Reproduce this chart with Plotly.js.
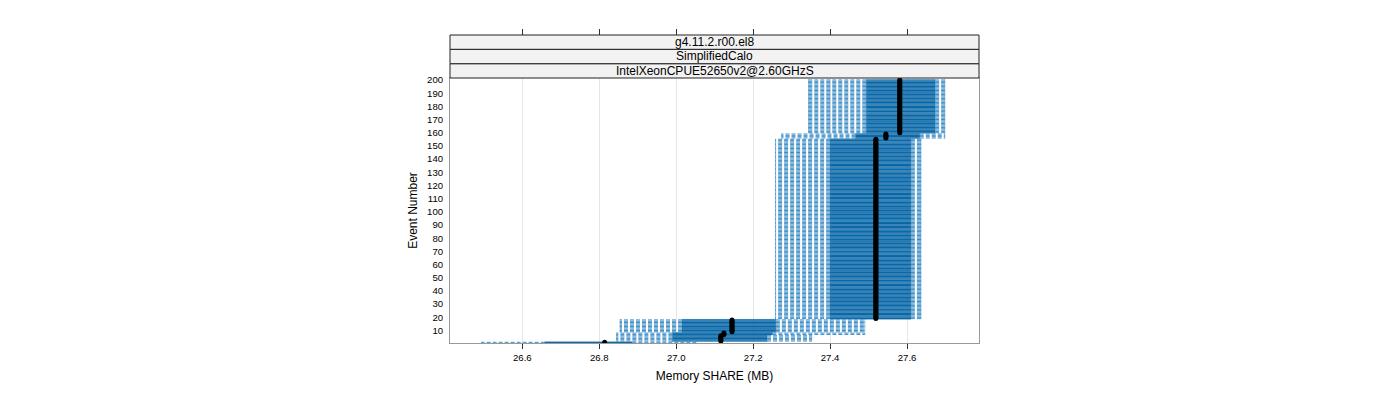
<!DOCTYPE html>
<html>
<head>
<meta charset="utf-8">
<script src="https://cdn.plot.ly/plotly-3.0.1.min.js"></script>
<style>
  html, body { margin: 0; padding: 0; background: #fff; }
  #chart { width: 1400px; height: 400px; }
</style>
</head>
<body>
<div id="chart"></div>
<script>
// runs of events that share the same box stats
var eventFrom   = [1, 2, 7, 9, 19, 156, 160];
var eventTo     = [1, 6, 8, 18, 155, 159, 200];
var whiskerLow  = [26.494, 26.845, 26.845, 26.854, 27.258, 27.274, 27.344];
var boxLow      = [26.658, 26.990, 26.990, 27.015, 27.400, 27.466, 27.494];
var medianVal   = [26.814, 27.116, 27.124, 27.145, 27.519, 27.545, 27.581];
var boxHigh     = [26.886, 27.236, 27.250, 27.259, 27.610, 27.633, 27.673];
var whiskerHigh = [27.051, 27.352, 27.490, 27.490, 27.636, 27.698, 27.698];

var stripLabels = ["g4.11.2.r00.el8", "SimplifiedCalo", "IntelXeonCPUE52650v2@2.60GHzS"];
var xTicks = [26.6, 26.8, 27.0, 27.2, 27.4, 27.6];
var yTicks = [10, 20, 30, 40, 50, 60, 70, 80, 90, 100,
              110, 120, 130, 140, 150, 160, 170, 180, 190, 200];

// one entry per event
var ev = [], lo = [], q1 = [], med = [], q3 = [], hi = [];
for (var b = 0; b < eventFrom.length; b++) {
  for (var e = eventFrom[b]; e <= eventTo[b]; e++) {
    ev.push(e);
    lo.push(whiskerLow[b]);
    q1.push(boxLow[b]);
    med.push(medianVal[b]);
    q3.push(boxHigh[b]);
    hi.push(whiskerHigh[b]);
  }
}

// dashed whiskers with end caps
var half = 0.3;
var wx = [], wy = [];
ev.forEach(function(e, i) {
  wx.push(q1[i], lo[i], null, lo[i], lo[i], null, q3[i], hi[i], null, hi[i], hi[i], null);
  wy.push(e, e, null, e - half, e + half, null, e, e, null, e - half, e + half, null);
});

var whiskers = {
  x: wx, y: wy, type: "scatter", mode: "lines",
  line: {color: "#3b8cc6", width: 1, dash: "4px,2px"},
  hoverinfo: "skip"
};
var boxes = {
  y: ev, x: q3.map(function(v, i) { return v - q1[i]; }), base: q1,
  type: "bar", orientation: "h", width: 0.85,
  marker: {color: "#0c72b8", line: {color: "#08588f", width: 0.3}}
};
var medians = {
  x: med, y: ev, type: "scatter", mode: "markers",
  marker: {color: "#000", size: 5}
};
var topTicks = {x: [], y: [], xaxis: "x2", type: "scatter"};

var xRange = [26.412, 27.787];
var panelFrac = 265 / 308;
var edges = [panelFrac, 279.3 / 308, 293.7 / 308, 1];

var shapes = [], annotations = [];
for (var s = 0; s < stripLabels.length; s++) {
  // bottom strip is the last label
  var k = stripLabels.length - 1 - s;
  shapes.push({type: "rect", xref: "paper", yref: "paper", x0: 0, x1: 1,
               y0: edges[s], y1: edges[s + 1],
               fillcolor: "#f2f2f2", line: {color: "#222", width: 1}});
  annotations.push({text: stripLabels[k], xref: "paper", yref: "paper",
                    x: 0.5, y: (edges[s] + edges[s + 1]) / 2,
                    xanchor: "center", yanchor: "middle",
                    showarrow: false, font: {size: 12, color: "#000"}});
}

var layout = {
  width: 1400, height: 400,
  margin: {l: 450, r: 421, t: 35, b: 57},
  paper_bgcolor: "#fff", plot_bgcolor: "#fff",
  showlegend: false,
  font: {family: "Liberation Sans, Arial, sans-serif", size: 10, color: "#000"},
  xaxis: {
    range: xRange, tickvals: xTicks, tickformat: ".1f",
    ticks: "outside", ticklen: 5, tickcolor: "#333",
    showgrid: true, gridcolor: "#e6e6e6",
    showline: true, linecolor: "#999", linewidth: 1, mirror: true,
    zeroline: false, tickfont: {size: 9.6},
    title: {text: "Memory SHARE (MB)", font: {size: 12}, standoff: 10}
  },
  xaxis2: {
    overlaying: "x", anchor: "free", position: 1, side: "top",
    range: xRange, tickvals: xTicks, ticks: "outside", ticklen: 6,
    tickcolor: "#333", showticklabels: false, showgrid: false,
    showline: false, zeroline: false
  },
  yaxis: {
    domain: [0, panelFrac], range: [0.5, 201.5], tickvals: yTicks,
    ticks: "", showgrid: false, showline: true, mirror: true,
    linecolor: "#999", linewidth: 1, zeroline: false,
    tickfont: {size: 9.6}, ticklabelstandoff: 4,
    title: {text: "Event Number", font: {size: 12}, standoff: 6}
  },
  shapes: shapes,
  annotations: annotations
};

Plotly.newPlot("chart", [whiskers, boxes, medians, topTicks], layout,
               {staticPlot: true, displayModeBar: false});
</script>
</body>
</html>
